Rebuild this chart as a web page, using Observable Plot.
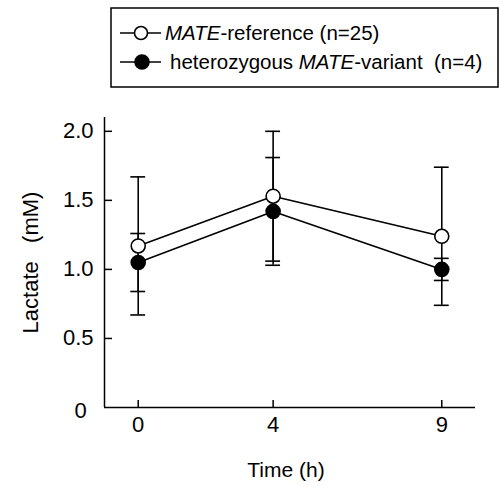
<!DOCTYPE html>
<html><head><meta charset="utf-8">
<script src="https://cdn.jsdelivr.net/npm/d3@7"></script>
<script src="https://cdn.jsdelivr.net/npm/@observablehq/plot@0.6"></script>
<style>
body{margin:0;background:#fff;font-family:"Liberation Sans",Arial,sans-serif;}
#wrap{position:relative;width:500px;height:487px;overflow:hidden;}
#legend{position:absolute;left:0;top:0;}
#chart{position:absolute;left:0;top:90px;}
svg text{white-space:pre;}
</style></head>
<body>
<div id="wrap">
<svg id="legend" width="500" height="90" xmlns="http://www.w3.org/2000/svg" font-family="Liberation Sans, Arial, sans-serif" font-size="20.5"></svg>
<div id="chart"></div>
</div>
<script>
// ---- data ----
const times = [0, 4, 9];
const refMean = [1.17, 1.53, 1.24];
const refSD = [0.50, 0.47, 0.50];
const varMean = [1.05, 1.42, 1.00];
const varSD = [0.21, 0.39, 0.08];
const yTicks = [0.5, 1.0, 1.5, 2.0];
const xTitle = "Time (h)";
const yTitle = "Lactate   (mM)";

const refData = times.map((t, i) => ({t, m: refMean[i], sd: refSD[i]}));
const varData = times.map((t, i) => ({t, m: varMean[i], sd: varSD[i]}));
const caps = [...refData, ...varData].flatMap(d => [{t: d.t, v: d.m - d.sd}, {t: d.t, v: d.m + d.sd}]);
const capHalf = 0.22;
const sw = 1.6;

// ---- legend ----
const lg = document.getElementById("legend");
lg.innerHTML = `
<rect x="111" y="8" width="387" height="79" fill="none" stroke="#000" stroke-width="1.5"/>
<line x1="120" x2="161" y1="33" y2="33" stroke="#000" stroke-width="${sw}"/>
<circle cx="141" cy="33" r="6.5" fill="#fff" stroke="#000" stroke-width="${sw}"/>
<text x="165" y="40"><tspan font-style="italic">MATE</tspan>-reference (n=25)</text>
<line x1="120" x2="161" y1="62" y2="62" stroke="#000" stroke-width="${sw}"/>
<circle cx="142" cy="62" r="7" fill="#000" stroke="#000" stroke-width="${sw}"/>
<text x="170" y="69">heterozygous <tspan font-style="italic">MATE</tspan>-variant  (n=4)</text>`;

// ---- chart ----
const chart = Plot.plot({
  width: 500,
  height: 397,
  marginLeft: 104,
  marginRight: 25,
  marginTop: 27,
  marginBottom: 80,
  style: {fontFamily: "Liberation Sans, Arial, sans-serif", fontSize: "22px", color: "#000", background: "#fff"},
  x: {domain: [-1, 10]},
  y: {domain: [0, 2.1]},
  marks: [
    Plot.ruleX([-1], {strokeWidth: 1.5}),
    Plot.ruleY([0], {strokeWidth: 1.5}),
    Plot.axisY(yTicks, {tickSize: 8, dx: 8, tickFormat: () => "", label: null, strokeWidth: 1.5}),
    Plot.axisY(yTicks, {tickSize: 0, tickPadding: 11, tickFormat: d3.format(".1f"), label: null, fontSize: 22}),
    Plot.text([0], {x: -1, y: d => d, text: () => "0", dx: -24, dy: 3, fontSize: 22}),
    Plot.axisX(times, {tickSize: 7, dy: -7, tickFormat: () => "", label: null, strokeWidth: 1.5}),
    Plot.axisX(times, {tickSize: 0, tickPadding: 9, label: null, fontSize: 22}),
    Plot.text([xTitle], {frameAnchor: "bottom", dx: -4, dy: 69, lineAnchor: "bottom", fontSize: 21}),
    Plot.text([yTitle], {frameAnchor: "left", rotate: -90, dx: -82, textAnchor: "middle", lineAnchor: "top", fontSize: 22}),
    Plot.ruleX(refData, {x: "t", y1: d => d.m - d.sd, y2: d => d.m + d.sd, strokeWidth: sw}),
    Plot.ruleX(varData, {x: "t", y1: d => d.m - d.sd, y2: d => d.m + d.sd, strokeWidth: sw}),
    Plot.ruleY(caps, {y: "v", x1: d => d.t - capHalf, x2: d => d.t + capHalf, strokeWidth: sw}),
    Plot.line(refData, {x: "t", y: "m", stroke: "#000", strokeWidth: sw}),
    Plot.line(varData, {x: "t", y: "m", stroke: "#000", strokeWidth: sw}),
    Plot.dot(varData, {x: "t", y: "m", r: 7, fill: "#000", stroke: "#000", strokeWidth: sw}),
    Plot.dot(refData, {x: "t", y: "m", r: 7, fill: "#fff", stroke: "#000", strokeWidth: sw})
  ]
});
document.getElementById("chart").appendChild(chart);
</script>
</body></html>
